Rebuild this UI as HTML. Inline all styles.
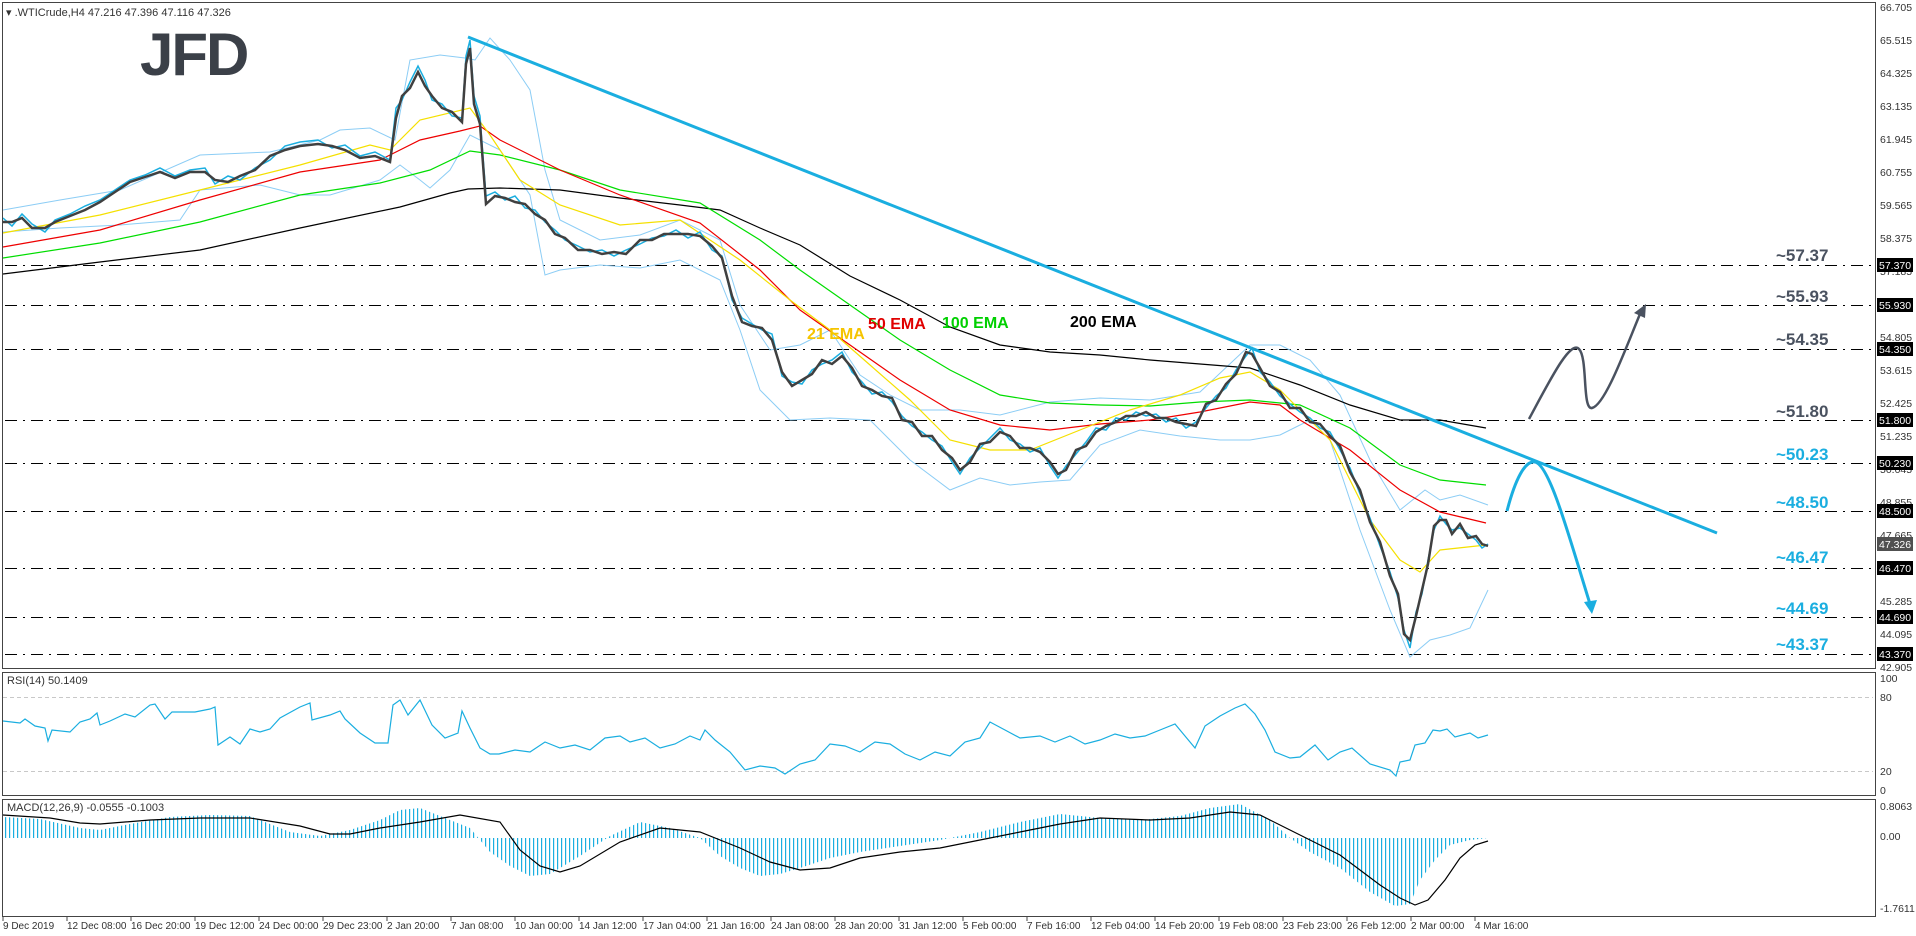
<!DOCTYPE html>
<html><head><meta charset="utf-8">
<style>
html,body{margin:0;padding:0;background:#fff;}
svg{display:block;font-family:"Liberation Sans",Tahoma,sans-serif;}
</style></head>
<body>
<svg width="1916" height="936" viewBox="0 0 1916 936" xmlns="http://www.w3.org/2000/svg">
<defs>
<pattern id="hb" width="4" height="10" patternUnits="userSpaceOnUse"><rect x="1" y="0" width="1.2" height="10" fill="#1aaee0"/></pattern>
</defs>
<rect width="1916" height="936" fill="#fff"/>
<!-- levels -->
<g stroke="#000" stroke-width="1" stroke-dasharray="12,6,2,6">
<line x1="5" y1="265.5" x2="1873" y2="265.5"/>
<line x1="5" y1="305.5" x2="1873" y2="305.5"/>
<line x1="5" y1="349.5" x2="1873" y2="349.5"/>
<line x1="5" y1="420.5" x2="1873" y2="420.5"/>
<line x1="5" y1="463.5" x2="1873" y2="463.5"/>
<line x1="5" y1="511.5" x2="1873" y2="511.5"/>
<line x1="5" y1="568.5" x2="1873" y2="568.5"/>
<line x1="5" y1="617.5" x2="1873" y2="617.5"/>
<line x1="5" y1="654.5" x2="1873" y2="654.5"/>
</g>
<!-- bollinger -->
<g fill="none" stroke="#8ccdf5" stroke-width="1">
<polyline points="3,210 60,200 120,190 200,155 270,152 320,140 340,130 370,128 395,140 410,60 440,55 465,58 475,60 490,38 510,60 530,90 545,170 560,220 600,240 640,235 680,220 720,240 740,305 770,350 800,345 830,330 860,375 890,395 920,410 960,410 1000,415 1050,402 1100,398 1150,400 1200,392 1250,345 1280,345 1310,360 1340,395 1370,460 1400,510 1425,490 1440,500 1460,495 1488,505"/>
<polyline points="3,232 60,228 120,225 180,220 200,190 260,185 300,195 330,195 380,180 400,165 420,180 430,188 450,170 470,135 500,150 530,195 545,275 560,270 600,265 640,268 680,260 720,280 740,330 760,390 790,420 830,418 870,420 910,460 950,490 980,478 1010,485 1040,482 1070,480 1100,445 1140,430 1180,436 1220,440 1250,440 1280,435 1310,420 1330,440 1360,530 1390,610 1410,657 1430,640 1450,635 1470,628 1488,590"/>
</g>
<!-- EMAs -->
<g fill="none" stroke-width="1.2">
<polyline stroke="#000" points="3,274 100,262 200,250 300,228 400,207 450,193 468,189 500,188 560,190 620,198 680,205 720,210 760,228 800,245 850,276 900,300 950,327 1000,345 1050,352 1100,355 1150,360 1200,364 1250,368 1300,385 1350,405 1400,420 1440,420 1486,428"/>
<polyline stroke="#00dd00" points="3,258 100,243 200,222 300,195 380,183 430,170 470,151 500,155 560,170 620,190 700,203 760,240 800,270 850,305 900,340 950,370 1000,395 1050,403 1100,405 1150,406 1200,402 1250,400 1300,405 1350,428 1400,465 1440,480 1486,485"/>
<polyline stroke="#ee0000" points="3,247 100,230 200,200 300,172 380,160 420,140 460,131 480,126 500,140 560,170 620,195 700,223 760,270 800,310 850,345 900,380 950,410 1000,425 1050,430 1100,424 1150,420 1200,412 1250,402 1280,405 1300,420 1350,450 1400,490 1440,512 1486,523"/>
<polyline stroke="#f5e000" points="3,233 100,215 200,190 300,165 370,145 390,150 420,120 470,108 490,135 520,180 560,205 620,225 680,220 740,260 790,300 830,330 870,365 910,400 950,440 990,450 1030,450 1080,430 1130,410 1180,395 1220,378 1250,372 1280,390 1300,410 1330,440 1370,520 1400,560 1420,572 1440,550 1486,545"/>
</g>
<!-- price (candle approximation) -->
<polyline fill="none" stroke="#1aaee0" stroke-width="1.5" points="3,218 12,226 22,214 32,224 45,232 55,220 70,214 85,206 100,200 115,190 130,180 145,175 160,168 175,176 190,170 205,168 215,184 228,176 240,180 255,168 270,160 285,146 300,142 318,140 332,148 345,145 360,156 375,152 390,160 396,108 402,100 410,82 418,66 425,80 432,100 442,104 452,116 462,118 466,56 470,40 474,96 480,116 486,196 495,192 505,200 515,196 525,208 535,210 545,222 555,230 565,240 578,246 590,252 602,250 614,256 626,250 640,244 652,238 664,236 676,230 688,238 700,232 712,250 722,256 732,300 742,318 752,324 762,330 772,334 782,376 792,382 802,384 812,370 822,364 832,360 842,352 852,372 862,382 872,394 882,392 892,402 902,416 912,426 922,432 932,440 942,446 952,462 960,474 970,458 980,448 990,438 1000,428 1010,440 1020,444 1030,452 1040,448 1050,466 1058,478 1066,466 1076,454 1086,442 1096,428 1106,430 1116,418 1126,420 1136,412 1146,416 1156,414 1166,422 1176,418 1186,428 1196,422 1206,408 1216,396 1226,388 1236,370 1246,356 1252,348 1260,372 1270,382 1280,396 1290,404 1300,412 1310,418 1320,428 1330,432 1340,450 1350,468 1360,494 1370,518 1380,546 1390,572 1398,598 1404,630 1410,648 1416,612 1422,594 1428,560 1434,530 1440,516 1446,524 1452,530 1460,528 1468,534 1476,540 1482,548 1488,544"/>
<polyline fill="none" stroke="#404040" stroke-width="2.5" points="3,222 12,222 22,218 32,228 45,228 55,222 70,216 85,210 100,202 115,192 130,182 145,177 160,172 175,178 190,172 205,172 215,180 228,182 240,176 255,170 270,156 285,150 300,146 318,144 332,146 345,150 360,158 375,156 390,162 396,118 402,96 410,88 418,72 425,86 432,96 442,108 452,112 462,122 466,64 470,48 474,104 480,124 486,204 495,196 505,198 515,202 525,204 535,214 545,220 555,234 565,238 578,250 590,250 602,254 614,252 626,254 640,240 652,240 664,234 676,234 688,234 700,236 712,246 722,258 732,296 742,322 752,326 762,328 772,340 782,372 792,386 802,380 812,374 822,360 832,364 842,356 852,368 862,386 872,390 882,396 892,398 902,420 912,422 922,436 932,436 942,450 952,458 960,470 970,462 980,444 990,442 1000,432 1010,436 1020,448 1030,448 1040,452 1050,462 1058,474 1066,470 1076,450 1086,446 1096,432 1106,426 1116,422 1126,416 1136,416 1146,412 1156,418 1166,418 1176,422 1186,424 1196,426 1206,404 1216,400 1226,384 1236,374 1246,352 1252,354 1260,368 1270,386 1280,392 1290,408 1300,408 1310,422 1320,424 1330,436 1340,446 1350,472 1360,490 1370,522 1380,542 1390,576 1398,594 1404,634 1410,640 1416,616 1422,590 1428,564 1434,526 1440,520 1446,520 1452,534 1460,524 1468,538 1476,536 1482,544 1488,546"/>
<!-- trendline -->
<line x1="468" y1="37" x2="1717" y2="533" stroke="#1aaee0" stroke-width="3"/>
<!-- RSI -->
<line x1="3" y1="697.5" x2="1873" y2="697.5" stroke="#c8c8c8" stroke-dasharray="4,3"/>
<line x1="3" y1="771.5" x2="1873" y2="771.5" stroke="#c8c8c8" stroke-dasharray="4,3"/>
<polyline fill="none" stroke="#1aaee0" stroke-width="1.2" points="3,721 20,723 25,719 35,726 45,728 48,741 52,730 70,732 80,722 90,719 97,713 100,725 110,721 125,714 135,717 150,705 155,704 165,719 172,712 195,712 210,709 215,707 218,745 230,737 240,744 250,729 260,732 270,729 280,718 300,707 310,703 312,720 330,715 340,711 345,719 360,733 375,743 388,743 393,705 400,700 408,715 420,700 432,725 445,738 458,733 462,711 470,728 480,748 490,754 499,754 515,750 530,752 545,742 560,748 575,745 590,750 605,738 620,736 630,742 645,738 660,748 675,744 690,736 700,740 705,730 715,740 730,752 745,770 760,766 775,768 785,774 800,764 815,760 830,744 845,746 860,752 875,742 890,744 905,754 920,760 935,752 950,756 965,742 980,738 990,722 1005,730 1020,738 1040,736 1055,742 1070,736 1085,744 1100,740 1115,734 1130,738 1145,736 1160,730 1175,724 1185,736 1195,748 1205,726 1220,716 1235,708 1245,704 1255,714 1265,730 1275,752 1290,758 1300,757 1315,745 1328,760 1340,752 1352,748 1370,764 1390,770 1396,776 1400,762 1410,760 1415,745 1425,743 1433,730 1440,731 1447,729 1455,737 1470,733 1478,738 1488,735"/>
<!-- MACD histogram -->
<polygon fill="url(#hb)" points="3,838 3,817 40,819 80,828 100,830 130,824 170,817 210,815 250,816 290,832 320,836 350,830 380,820 400,810 420,808 440,816 470,828 490,852 510,866 530,876 550,874 580,856 610,836 640,822 670,828 700,838 720,856 740,868 760,876 780,874 800,868 830,858 860,852 900,846 940,840 980,832 1020,822 1060,814 1100,818 1140,820 1180,816 1210,808 1240,804 1270,820 1290,838 1310,852 1340,868 1370,892 1395,906 1410,904 1420,880 1435,860 1450,845 1470,840 1488,838"/>
<polyline fill="none" stroke="#000" stroke-width="1.2" points="3,815 50,818 80,823 100,824 150,820 200,818 250,818 300,826 330,834 350,834 380,828 420,822 460,815 500,822 520,850 540,866 560,872 580,866 620,842 660,828 700,832 740,848 770,862 800,870 830,868 860,858 900,852 940,848 980,840 1020,832 1060,824 1100,818 1150,820 1190,818 1230,812 1260,815 1290,830 1320,845 1340,855 1360,870 1380,885 1400,898 1415,905 1428,900 1445,880 1460,858 1475,845 1488,841"/>
<!-- pane borders -->
<g fill="none" stroke="#444" stroke-width="1">
<rect x="2.5" y="2.5" width="1873" height="666"/>
<rect x="2.5" y="672.5" width="1873" height="123"/>
<rect x="2.5" y="799.5" width="1873" height="117"/>
</g>
<!-- texts -->
<g font-size="11" fill="#333">
<text x="6" y="16">▾ .WTICrude,H4  47.216 47.396 47.116 47.326</text>
<text x="7" y="684">RSI(14) 50.1409</text>
<text x="7" y="811">MACD(12,26,9) -0.0555 -0.1003</text>
</g>
<text x="140" y="75" font-size="60" font-weight="bold" fill="#3b4048" letter-spacing="-2">JFD</text>
<g font-size="16" font-weight="bold">
<text x="807" y="339" fill="#f5c400">21 EMA</text>
<text x="868" y="329" fill="#e00000">50 EMA</text>
<text x="942" y="328" fill="#00d000">100 EMA</text>
<text x="1070" y="327" fill="#000">200 EMA</text>
</g>
<g font-size="17" font-weight="bold">
<text x="1776" y="261" fill="#4a5260">~57.37</text>
<text x="1776" y="302" fill="#4a5260">~55.93</text>
<text x="1776" y="345" fill="#4a5260">~54.35</text>
<text x="1776" y="417" fill="#4a5260">~51.80</text>
<text x="1776" y="460" fill="#1aaee0">~50.23</text>
<text x="1776" y="508" fill="#1aaee0">~48.50</text>
<text x="1776" y="563" fill="#1aaee0">~46.47</text>
<text x="1776" y="614" fill="#1aaee0">~44.69</text>
<text x="1776" y="650" fill="#1aaee0">~43.37</text>
</g>
<!-- arrows -->
<path d="M1529,419 C1550,380 1570,340 1579,349 C1588,358 1582,410 1592,408 C1605,405 1625,350 1640,314" fill="none" stroke="#4a5260" stroke-width="2.5"/>
<polygon points="1646,304 1634,313 1645,318" fill="#4a5260"/>
<path d="M1507,511 C1515,480 1525,460 1535,462 C1550,465 1570,540 1590,604" fill="none" stroke="#1aaee0" stroke-width="3"/>
<polygon points="1592,614 1584,602 1597,600" fill="#1aaee0"/>
<!-- right axis -->
<g font-size="10.5" fill="#333">
<text x="1880" y="11">66.705</text>
<text x="1880" y="44">65.515</text>
<text x="1880" y="77">64.325</text>
<text x="1880" y="110">63.135</text>
<text x="1880" y="143">61.945</text>
<text x="1880" y="176">60.755</text>
<text x="1880" y="209">59.565</text>
<text x="1880" y="242">58.375</text>
<text x="1880" y="275">57.185</text>
<text x="1880" y="341">54.805</text>
<text x="1880" y="374">53.615</text>
<text x="1880" y="407">52.425</text>
<text x="1880" y="440">51.235</text>
<text x="1880" y="473">50.045</text>
<text x="1880" y="506">48.855</text>
<text x="1880" y="539">47.665</text>
<text x="1880" y="605">45.285</text>
<text x="1880" y="638">44.095</text>
<text x="1880" y="671">42.905</text>
<text x="1880" y="682">100</text>
<text x="1880" y="701">80</text>
<text x="1880" y="775">20</text>
<text x="1880" y="794">0</text>
<text x="1880" y="810">0.8063</text>
<text x="1880" y="840">0.00</text>
<text x="1880" y="912">-1.7611</text>
</g>
<g font-size="10.5">
<rect x="1877" y="258" width="36" height="14" fill="#000"/><text x="1879" y="269" fill="#fff">57.370</text>
<rect x="1877" y="298" width="36" height="14" fill="#000"/><text x="1879" y="309" fill="#fff">55.930</text>
<rect x="1877" y="342" width="36" height="14" fill="#000"/><text x="1879" y="353" fill="#fff">54.350</text>
<rect x="1877" y="413" width="36" height="14" fill="#000"/><text x="1879" y="424" fill="#fff">51.800</text>
<rect x="1877" y="456" width="36" height="14" fill="#000"/><text x="1879" y="467" fill="#fff">50.230</text>
<rect x="1877" y="504" width="36" height="14" fill="#000"/><text x="1879" y="515" fill="#fff">48.500</text>
<rect x="1877" y="537" width="36" height="14" fill="#505050"/><text x="1879" y="548" fill="#fff">47.326</text>
<rect x="1877" y="561" width="36" height="14" fill="#000"/><text x="1879" y="572" fill="#fff">46.470</text>
<rect x="1877" y="610" width="36" height="14" fill="#000"/><text x="1879" y="621" fill="#fff">44.690</text>
<rect x="1877" y="647" width="36" height="14" fill="#000"/><text x="1879" y="658" fill="#fff">43.370</text>
</g>
<!-- x axis -->
<path stroke="#444" d="M3,917v4M67,917v4M131,917v4M195,917v4M259,917v4M323,917v4M387,917v4M451,917v4M515,917v4M579,917v4M643,917v4M707,917v4M771,917v4M835,917v4M899,917v4M963,917v4M1027,917v4M1091,917v4M1155,917v4M1219,917v4M1283,917v4M1347,917v4M1411,917v4M1475,917v4"/>
<g font-size="10" fill="#333">
<text x="3" y="929">9 Dec 2019</text>
<text x="67" y="929">12 Dec 08:00</text>
<text x="131" y="929">16 Dec 20:00</text>
<text x="195" y="929">19 Dec 12:00</text>
<text x="259" y="929">24 Dec 00:00</text>
<text x="323" y="929">29 Dec 23:00</text>
<text x="387" y="929">2 Jan 20:00</text>
<text x="451" y="929">7 Jan 08:00</text>
<text x="515" y="929">10 Jan 00:00</text>
<text x="579" y="929">14 Jan 12:00</text>
<text x="643" y="929">17 Jan 04:00</text>
<text x="707" y="929">21 Jan 16:00</text>
<text x="771" y="929">24 Jan 08:00</text>
<text x="835" y="929">28 Jan 20:00</text>
<text x="899" y="929">31 Jan 12:00</text>
<text x="963" y="929">5 Feb 00:00</text>
<text x="1027" y="929">7 Feb 16:00</text>
<text x="1091" y="929">12 Feb 04:00</text>
<text x="1155" y="929">14 Feb 20:00</text>
<text x="1219" y="929">19 Feb 08:00</text>
<text x="1283" y="929">23 Feb 23:00</text>
<text x="1347" y="929">26 Feb 12:00</text>
<text x="1411" y="929">2 Mar 00:00</text>
<text x="1475" y="929">4 Mar 16:00</text>
</g>
</svg>
</body></html>
